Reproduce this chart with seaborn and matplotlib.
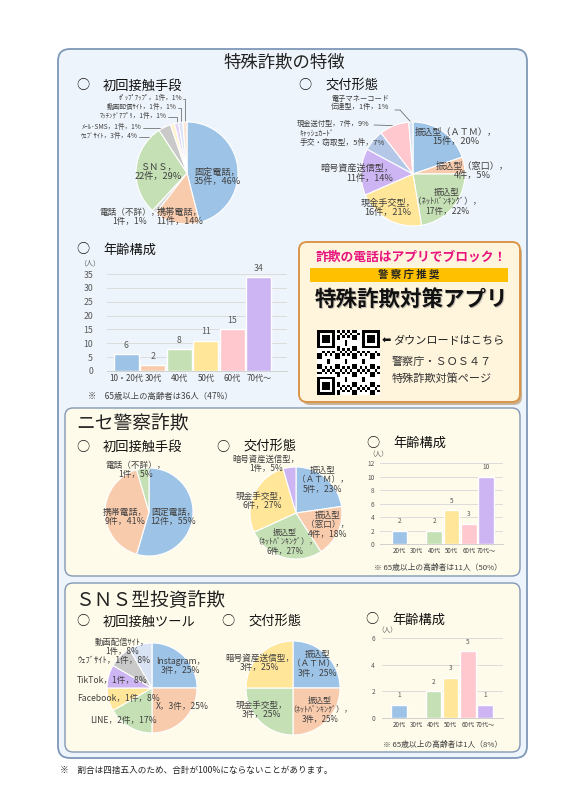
import numpy as np
from matplotlib import pyplot as plt
from matplotlib.patches import FancyBboxPatch, Rectangle
import seaborn as sns

sns.set_theme(style="white")
plt.rcParams['font.family'] = ['Noto Sans CJK JP', 'DejaVu Sans']

W, H = 567, 800

# ---- data ----
contact_names = ["固定電話", "携帯電話", "電話（不詳）", "ＳＮＳ", "ｳｪﾌﾞｻｲﾄ",
                 "ﾒｰﾙ･SMS", "ﾏｯﾁﾝｸﾞｱﾌﾟﾘ", "動画配信ｻｲﾄ", "ﾎﾟｯﾌﾟｱｯﾌﾟ"]
contact_counts = [35, 11, 1, 22, 3, 1, 1, 1, 1]

delivery_names = ["振込型（ＡＴＭ）", "振込型（窓口）", "振込型\n（ﾈｯﾄﾊﾞﾝｷﾝｸﾞ）", "現金手交型",
                  "暗号資産送信型", "ｷｬｯｼｭｶｰﾄﾞ\n手交・窃取型", "現金送付型", "電子マネーコード\n伝達型"]
delivery_counts = [15, 4, 17, 16, 11, 5, 7, 1]

age_labels = ["10・20代", "30代", "40代", "50代", "60代", "70代～"]
age_counts = [6, 2, 8, 11, 15, 34]

nise_contact_names = ["固定電話", "携帯電話", "電話（不詳）"]
nise_contact_counts = [12, 9, 1]
nise_delivery_names = ["振込型\n（ＡＴＭ）", "振込型\n（窓口）", "振込型\n（ﾈｯﾄﾊﾞﾝｷﾝｸﾞ）", "現金手交型", "暗号資産送信型"]
nise_delivery_counts = [5, 4, 6, 6, 1]
nise_age_labels = ["20代", "30代", "40代", "50代", "60代", "70代～"]
nise_age_counts = [2, 0, 2, 5, 3, 10]

sns_contact_names = ["Instagram", "X", "LINE", "Facebook", "TikTok", "ｳｪﾌﾞｻｲﾄ", "動画配信ｻｲﾄ"]
sns_contact_counts = [3, 3, 2, 1, 1, 1, 1]
sns_delivery_names = ["振込型\n（ＡＴＭ）", "振込型\n（ﾈｯﾄﾊﾞﾝｷﾝｸﾞ）", "現金手交型", "暗号資産送信型"]
sns_delivery_counts = [3, 3, 3, 3]
sns_age_labels = ["20代", "30代", "40代", "50代", "60代", "70代～"]
sns_age_counts = [1, 0, 2, 3, 5, 1]

# ---- colours ----
BLUE, PEACH, GREEN, YELLOW = "#9DC3E6", "#F8CBAD", "#C5E0B4", "#FFE699"
PINK, PURPLE, GRAY, LBLUE = "#FFC7CE", "#CDB4F3", "#C9C9C9", "#DAE3F3"
AGE_COLORS = [BLUE, PEACH, GREEN, YELLOW, PINK, PURPLE]
TXT = "#404040"

fig = plt.figure(figsize=(W / 100, H / 100), dpi=100)
fig.patch.set_facecolor("white")


def fr(x, y, w, h):
    return [x / W, 1 - (y + h) / H, w / W, h / H]


def overlay(z):
    a = fig.add_axes([0, 0, 1, 1])
    a.set_xlim(0, W)
    a.set_ylim(H, 0)
    a.axis('off')
    a.set_zorder(z)
    a.patch.set_alpha(0)
    return a


bg = overlay(0)
fg = overlay(10)   # labels drawn above the pies


def rbox(x0, y0, x1, y1, fc, ec, lw=1.0, rs=8, z=1):
    bg.add_patch(FancyBboxPatch((x0, y0), x1 - x0, y1 - y0,
                                boxstyle=f"round,pad=0,rounding_size={rs}",
                                fc=fc, ec=ec, lw=lw, zorder=z))


def heading(x, y, txt, fs=9.5):
    fg.text(x, y, "○", fontsize=fs, ha='center', va='center', color='#111111')
    fg.text(x + 20, y, txt, fontsize=fs, ha='left', va='center', color='#111111')


def draw_pie(cx, cy, r, counts, colors):
    ax = fig.add_axes(fr(cx - r, cy - r, 2 * r, 2 * r))
    ax.set_zorder(5)
    wedges, _ = ax.pie(counts, colors=colors, startangle=90, counterclock=False,
                       wedgeprops=dict(edgecolor='white', linewidth=0.8))
    ax.set_xlim(-1, 1)
    ax.set_ylim(-1, 1)
    ax.set_aspect('equal')
    ax.axis('off')
    edges = []
    for w in wedges:
        t = np.deg2rad((w.theta1 + w.theta2) / 2)
        edges.append((cx + r * np.cos(t), cy - r * np.sin(t)))
    return edges


def pie_labels(names, counts, layout):
    total = sum(counts)
    for name, n, (x, y, join, ha, fs) in zip(names, counts, layout):
        p = int(n / total * 100 + 0.5)
        fg.text(x, y, f"{name}{join}{n}件，{p}%", ha=ha, va='center', fontsize=fs,
                color=TXT, multialignment=ha, linespacing=1.1)


def leader(x, y, edge):
    ex, ey = edge
    bg.plot([x + 1, ex, ex], [y + 1, y + 1, ey], color='#595959', lw=0.5, zorder=4)


def draw_bars(rect, labels, counts, ymax, ystep, xlim, width, fs, xfs, ypad, pad):
    ax = fig.add_axes(fr(*rect))
    ax.set_zorder(5)
    sns.barplot(x=labels, y=counts, hue=labels, palette=AGE_COLORS, legend=False,
                saturation=1, width=width, ax=ax)
    ax.set_ylim(0, ymax)
    ax.set_xlim(*xlim)
    ax.set_yticks(range(0, ymax + 1, ystep))
    ax.set_facecolor('none')
    for s in ['left', 'right', 'top']:
        ax.spines[s].set_visible(False)
    ax.spines['bottom'].set_color('#D0D0D0')
    ax.spines['bottom'].set_linewidth(0.7)
    ax.yaxis.grid(True, color='#DCDCDC', lw=0.7)
    ax.set_axisbelow(True)
    ax.tick_params(axis='y', length=0, pad=ypad, labelsize=fs, labelcolor='#595959')
    ax.tick_params(axis='x', length=0, pad=2, labelsize=xfs, labelcolor='#404040')
    ax.set_xlabel('')
    ax.set_ylabel('')
    for cont, v in zip(ax.containers, counts):
        ax.bar_label(cont, labels=[str(v) if v else ''], padding=pad,
                     fontsize=fs, color='#595959')
    return ax


# ---- frames ----
rbox(58, 49, 527, 758, '#EEF4FB', '#7E98B8', 1.3, 12)
rbox(65, 408, 520, 576, '#FFFBEA', '#8298B5', 1.0, 8, z=2)
rbox(65, 583, 520, 752, '#FFFBEA', '#8298B5', 1.0, 8, z=2)

fg.text(284, 63, "特殊詐欺の特徴", fontsize=12.5, ha='center', va='center', color='#222222')

# ---- section 1 ----
heading(83, 86, "初回接触手段")
heading(305, 86, "交付形態")
heading(83, 250, "年齢構成")

e1 = draw_pie(187, 173, 51, contact_counts,
              [BLUE, PEACH, "#D9D9D9", GREEN, GRAY, "#FFF2CC", "#E4D7F5", LBLUE, "#FCE4D6"])
pie_layout1 = [
    (217, 177, "，\n", 'center', 6.6),
    (180, 217, "，\n", 'center', 6.6),
    (130, 217, "，\n", 'center', 6.2),
    (158, 172, "，\n", 'center', 6.6),
    (138, 136, "，", 'right', 4.8),
    (142, 127, "，", 'right', 4.8),
    (167, 116, "，", 'right', 4.8),
    (177, 107, "，", 'right', 4.8),
    (182, 98, "，", 'right', 4.8),
]
pie_labels(contact_names, contact_counts, pie_layout1)
for i in range(4, 9):
    leader(pie_layout1[i][0], pie_layout1[i][1], e1[i])

e2 = draw_pie(413, 174, 52, delivery_counts,
              [BLUE, PEACH, GREEN, YELLOW, PURPLE, "#B4C7E7", PINK, LBLUE])
pie_layout2 = [
    (456, 137, "，\n", 'center', 6.6),
    (472, 171, "，\n", 'center', 6.6),
    (447, 202, "，\n", 'center', 6.2),
    (388, 208, "，\n", 'center', 6.6),
    (393, 173, "，\n", 'right', 6.6),
    (300, 139, "，", 'left', 5.6),
    (297, 124, "，", 'left', 5.2),
    (360, 103, "，", 'center', 5.2),
]
pie_labels(delivery_names, delivery_counts, pie_layout2)
bg.plot([374, e2[6][0]], [125, e2[6][1]], color='#595959', lw=0.5, zorder=4)
bg.plot([395, 400, e2[7][0]], [110, 110, e2[7][1]], color='#595959', lw=0.5, zorder=4)

draw_bars((107, 274, 180, 97), age_labels, age_counts, 35, 5, (-0.73, 6.06), 0.95, 6.3, 5.8, 10, 3)
fg.text(90, 263, "（人）", fontsize=5, ha='center', va='center', color='#595959')
fg.text(88, 397, "※　65歳以上の高齢者は36人（47%）", fontsize=6, ha='left', va='center', color='#404040')

# ---- advert box ----
bg.add_patch(FancyBboxPatch((302, 245), 220, 160, boxstyle="round,pad=0,rounding_size=8",
                            fc='#B08A5A', ec='none', alpha=0.6, zorder=2))
rbox(299, 242, 520, 402, '#FFF4DC', '#D9954A', 1.4, 8, z=3)
fg.text(411, 257, "詐欺の電話はアプリでブロック！", fontsize=9.2, fontweight='bold',
        ha='center', va='center', color='#E8157F')
bg.add_patch(Rectangle((310, 268), 198, 14, fc='#FFC000', ec='none', zorder=4))
fg.text(409, 275, "警 察 庁 推 奨", fontsize=7.5, fontweight='bold', ha='center', va='center',
        color='#222222')
fg.text(412, 301, "特殊詐欺対策アプリ", fontsize=15.5, fontweight='bold', ha='center', va='center',
        color='#888888', alpha=0.5)
fg.text(411, 300, "特殊詐欺対策アプリ", fontsize=15.5, fontweight='bold', ha='center', va='center',
        color='#111111')

# decorative QR-like block
n = 25
ii, jj = np.meshgrid(np.arange(n), np.arange(n), indexing='ij')
qr = (((ii * ii * 3 + jj * jj * 5 + ii * jj * 7 + ii + 2 * jj) % 7) < 3).astype(float)
for (r0, c0) in [(0, 0), (0, n - 7), (n - 7, 0)]:
    blk = np.ones((7, 7))
    blk[1:6, 1:6] = 0
    blk[2:5, 2:5] = 1
    qr[max(r0 - 1, 0):min(r0 + 8, n), max(c0 - 1, 0):min(c0 + 8, n)] = 0
    qr[r0:r0 + 7, c0:c0 + 7] = blk
bg.imshow(qr, cmap='gray_r', extent=(317, 380, 395, 330), interpolation='nearest', zorder=5)
bg.set_xlim(0, W)
bg.set_ylim(H, 0)
bg.set_aspect('auto')

fg.text(382, 341, "⬅", fontsize=8, ha='left', va='center', color='#111111',
        family=['DejaVu Sans'])
fg.text(393, 341, "ダウンロードはこちら", fontsize=8, ha='left', va='center', color='#222222')
fg.text(392, 362, "警察庁・ＳＯＳ４７", fontsize=8, ha='left', va='center', color='#333333')
fg.text(392, 379, "特殊詐欺対策ページ", fontsize=8, ha='left', va='center', color='#333333')

# ---- section 2 ----
fg.text(76, 423, "ニセ警察詐欺", fontsize=13.5, ha='left', va='center', color='#222222')
heading(83, 447, "初回接触手段")
heading(223, 447, "交付形態")
heading(373, 443, "年齢構成")

draw_pie(149, 512, 44, nise_contact_counts, [BLUE, PEACH, GREEN])
pie_labels(nise_contact_names, nise_contact_counts, [
    (173, 517, "，\n", 'center', 6.4),
    (125, 517, "，\n", 'center', 6.4),
    (136, 470, "，\n", 'center', 6.2),
])
draw_pie(296, 513, 46, nise_delivery_counts, [BLUE, PEACH, GREEN, YELLOW, PURPLE])
pie_labels(nise_delivery_names, nise_delivery_counts, [
    (323, 480, "，\n", 'center', 6.2),
    (328, 525, "，\n", 'center', 6.2),
    (285, 542, "，\n", 'center', 5.8),
    (262, 501, "，\n", 'center', 6.2),
    (266, 464, "，\n", 'center', 6.0),
])
draw_bars((380, 463, 123, 81), nise_age_labels, nise_age_counts, 12, 2, (-1.13, 5.98), 0.9, 4.7, 4.5, 4, 4)
fg.text(378, 454, "（人）", fontsize=4.8, ha='center', va='center', color='#595959')
fg.text(502, 568, "※ 65歳以上の高齢者は11人（50%）", fontsize=5.6, ha='right', va='center',
        color='#404040')

# ---- section 3 ----
fg.text(75, 600, "ＳＮＳ型投資詐欺", fontsize=13.5, ha='left', va='center', color='#222222')
heading(83, 622, "初回接触ツール")
heading(228, 622, "交付形態")
heading(372, 620, "年齢構成")

draw_pie(152, 688, 45, sns_contact_counts, [BLUE, PEACH, GREEN, YELLOW, PURPLE, GRAY, LBLUE])
pie_labels(sns_contact_names, sns_contact_counts, [
    (181, 666, "，\n", 'center', 6.2),
    (182, 707, "，", 'center', 6.2),
    (123, 721, "，", 'center', 6.2),
    (77, 699, "，", 'left', 6.2),
    (77, 680, "，", 'left', 6.2),
    (77, 660, "，", 'left', 6.2),
    (122, 647, "，\n", 'center', 6.0),
])
draw_pie(293, 688, 47, sns_delivery_counts, [BLUE, PEACH, GREEN, YELLOW])
pie_labels(sns_delivery_names, sns_delivery_counts, [
    (318, 664, "，\n", 'center', 6.2),
    (320, 710, "，\n", 'center', 5.8),
    (262, 710, "，\n", 'center', 6.2),
    (260, 663, "，\n", 'center', 6.2),
])
draw_bars((382, 638, 121, 80), sns_age_labels, sns_age_counts, 6, 2, (-0.99, 6.05), 0.9, 4.7, 4.5, 5, 4)
fg.text(387, 630, "（人）", fontsize=4.8, ha='center', va='center', color='#595959')
fg.text(502, 745, "※ 65歳以上の高齢者は1人（8%）", fontsize=5.6, ha='right', va='center',
        color='#404040')

fg.text(60, 771, "※　割合は四捨五入のため、合計が100%にならないことがあります。", fontsize=6.2,
        ha='left', va='center', color='#222222')

fig.savefig("out.png", dpi=100)
